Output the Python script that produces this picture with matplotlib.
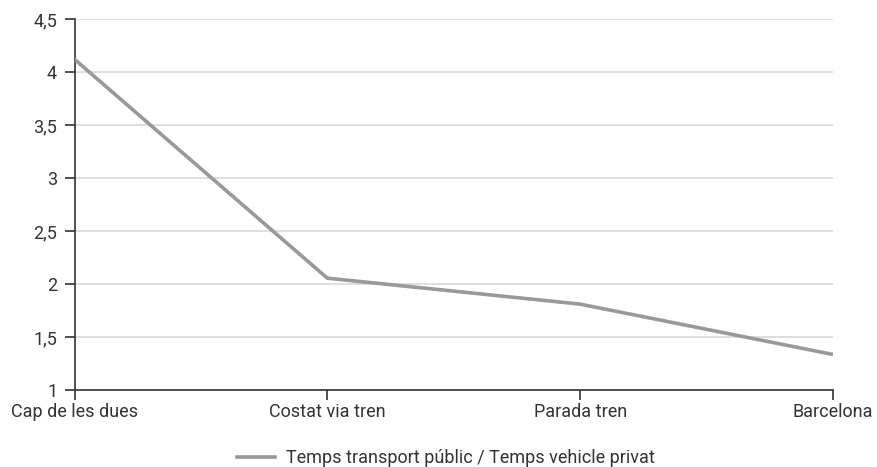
import matplotlib
matplotlib.use("Agg")
import matplotlib.pyplot as plt
from matplotlib.lines import Line2D

categories = ["Cap de les dues", "Costat via tren", "Parada tren", "Barcelona"]
values = [4.12, 2.055, 1.81, 1.335]
yticks = [1, 1.5, 2, 2.5, 3, 3.5, 4, 4.5]
ytick_labels = ["1", "1,5", "2", "2,5", "3", "3,5", "4", "4,5"]
series_label = "Temps transport públic / Temps vehicle privat"

plt.rcParams['font.family'] = ['Roboto', 'DejaVu Sans']

W, H = 877, 467
fig = plt.figure(figsize=(W/100, H/100), dpi=100)
ax = fig.add_axes([74.5/W, 1-390/H, (833-74.5)/W, (390-19)/H])

x = list(range(len(categories)))
ax.plot(x, values, color="#999999", lw=2.6, solid_capstyle="butt", zorder=3)

ax.set_xlim(0, len(categories)-1)
ax.set_ylim(1, 4.5)
ax.set_yticks(yticks)
ax.set_yticklabels(ytick_labels)
ax.set_xticks(x)
ax.set_xticklabels(categories)
ax.yaxis.grid(True, color="#d9d9d9", lw=1.2)
ax.set_axisbelow(True)

for s in ["top", "right"]:
    ax.spines[s].set_visible(False)
for s in ["left", "bottom"]:
    ax.spines[s].set_color("#333333")
    ax.spines[s].set_linewidth(1.2)

ax.tick_params(axis="both", colors="#333333", labelcolor="#333333", labelsize=13, length=7.5, width=1.2)
ax.tick_params(axis="y", pad=5)
ax.tick_params(axis="x", pad=2)

handle = Line2D([], [], color="#999999", lw=2.6)
fig.legend([handle], [series_label], loc="center", bbox_to_anchor=(446/W, 1-458/H),
           frameon=False, fontsize=13, handlelength=2.1, handletextpad=0.6, labelcolor="#333333")

fig.savefig("out.png", dpi=100)
